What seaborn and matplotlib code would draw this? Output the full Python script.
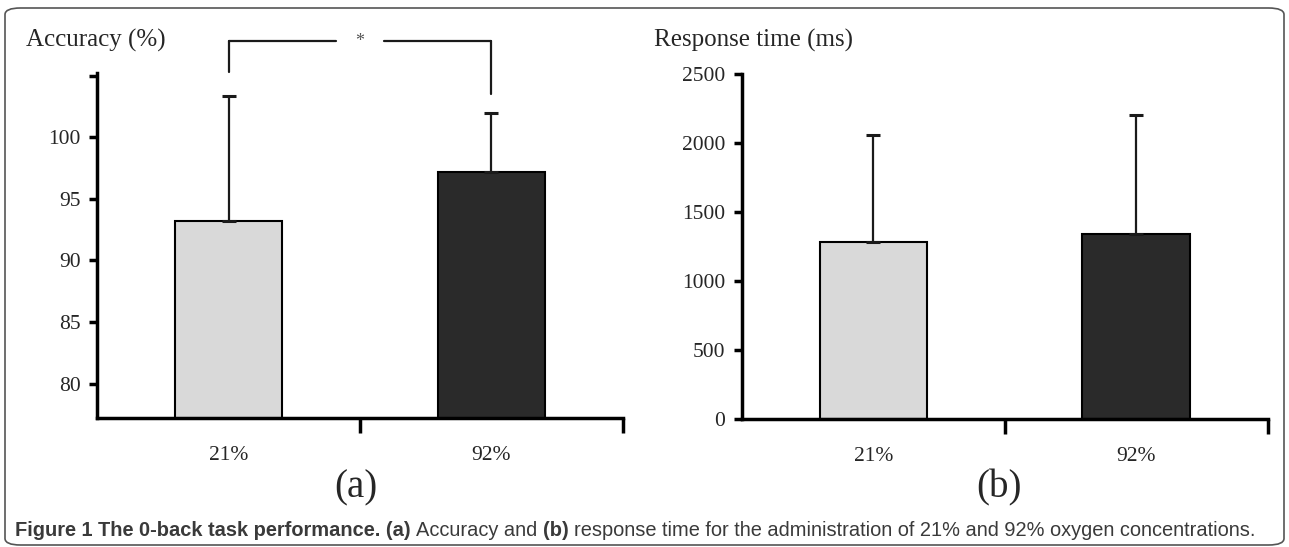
import matplotlib
matplotlib.use("Agg")
import matplotlib.pyplot as plt
import seaborn as sns
import pandas as pd
from matplotlib.patches import FancyBboxPatch

# ---- data ----
categories = ["21%", "92%"]
accuracy_mean = [93.2, 97.15]
accuracy_sd = [10.15, 4.85]
rt_mean = [1280, 1340]
rt_sd = [780, 865]
acc_ticks = [80, 85, 90, 95, 100, 105]
acc_tick_labels = ["80", "85", "90", "95", "100", ""]
rt_ticks = [0, 500, 1000, 1500, 2000, 2500]
bar_colors = ["#d9d9d9", "#2a2a2a"]

sns.set_theme(style="white")
plt.rcParams["font.family"] = ["Liberation Serif", "DejaVu Serif"]

fig = plt.figure(figsize=(12.89, 5.47), dpi=100)
axA = fig.add_axes([0.0753, 0.2358, 0.408, 0.630])
axB = fig.add_axes([0.5756, 0.2340, 0.408, 0.6307])


def draw(ax, means, sds, ylim, ticks, ticklabels):
    df = pd.DataFrame({"cond": categories, "val": means})
    sns.barplot(data=df, x="cond", y="val", hue="cond", palette=bar_colors,
                order=categories, hue_order=categories, legend=False,
                width=0.41, edgecolor="black", linewidth=1.5, ax=ax,
                errorbar=None)
    ax.errorbar(range(len(categories)), means, yerr=[[0] * len(sds), sds],
                fmt="none", ecolor="#1a1a1a", elinewidth=1.6, capsize=5,
                capthick=2.2, zorder=5)
    ax.set_xlim(-0.5, 1.5)
    ax.set_ylim(*ylim)
    ax.set_yticks(ticks)
    ax.set_yticklabels(ticklabels)
    ax.set_xticks(range(len(categories)))
    ax.set_xticklabels(categories)
    ax.set_xticks([0.5, 1.5], minor=True)
    ax.tick_params(axis="x", which="major", length=0, pad=20, labelsize=15.5)
    ax.tick_params(axis="x", which="minor", length=11, width=2.5,
                   direction="out", color="black", bottom=True)
    ax.tick_params(axis="y", which="major", length=6, width=2.5,
                   direction="out", color="black", left=True, labelsize=15.5,
                   pad=6)
    ax.set_xlabel("")
    ax.set_ylabel("")
    for s in ["top", "right"]:
        ax.spines[s].set_visible(False)
    for s in ["left", "bottom"]:
        ax.spines[s].set_color("black")
        ax.spines[s].set_linewidth(2.5)
    ax.set_facecolor("white")


draw(axA, accuracy_mean, accuracy_sd, (77.2, 105.2), acc_ticks, acc_tick_labels)
draw(axB, rt_mean, rt_sd, (0, 2500), rt_ticks, [str(t) for t in rt_ticks])

# significance bracket on panel (a)
by = 107.85
axA.plot([0, 0], [105.28, by], color="#1a1a1a", lw=1.6, clip_on=False)
axA.plot([0, 0.41], [by, by], color="#1a1a1a", lw=1.6, clip_on=False)
axA.plot([0.59, 1], [by, by], color="#1a1a1a", lw=1.6, clip_on=False)
axA.plot([1, 1], [103.5, by], color="#1a1a1a", lw=1.6, clip_on=False)
axA.text(0.5, by - 0.05, "*", ha="center", va="center", fontsize=13,
         color="#555555", clip_on=False)

# axis titles
fig.text(0.0205, 0.926, "Accuracy (%)", fontsize=18, ha="left", va="center")
fig.text(0.507, 0.926, "Response time (ms)", fontsize=18, ha="left",
         va="center")

# panel labels
fig.text(356 / 1289, 1 - 488 / 547, "(a)", fontsize=28, ha="center",
         va="center")
fig.text(999 / 1289, 1 - 488 / 547, "(b)", fontsize=28, ha="center",
         va="center")

# caption
cap_y = 1 - 530 / 547
cap_font = ["Liberation Sans", "DejaVu Sans"]
cap_size = 14.4
t1 = fig.text(15 / 1289, cap_y, "Figure 1 The 0-back task performance. (a) ",
              fontsize=cap_size, fontweight="bold", family=cap_font,
              color="#3a3a3a", ha="left", va="center")
fig.canvas.draw()
r = fig.canvas.get_renderer()
x = t1.get_window_extent(r).x1 / fig.bbox.width
parts = [("Accuracy and ", "normal"), ("(b) ", "bold"),
         ("response time for the administration of 21% and 92% oxygen concentrations.", "normal")]
for txt, w in parts:
    t = fig.text(x, cap_y, txt, fontsize=cap_size, fontweight=w,
                 family=cap_font, color="#3a3a3a", ha="left", va="center")
    fig.canvas.draw()
    x = t.get_window_extent(r).x1 / fig.bbox.width

# rounded border
border = FancyBboxPatch((5 / 1289, 2 / 547), 1279 / 1289, 537 / 547,
                        boxstyle="round,pad=0,rounding_size=0.012",
                        transform=fig.transFigure, fill=False,
                        edgecolor="#555555", linewidth=1.2)
fig.patches.append(border)

fig.savefig("out.png", dpi=100, facecolor="white")
